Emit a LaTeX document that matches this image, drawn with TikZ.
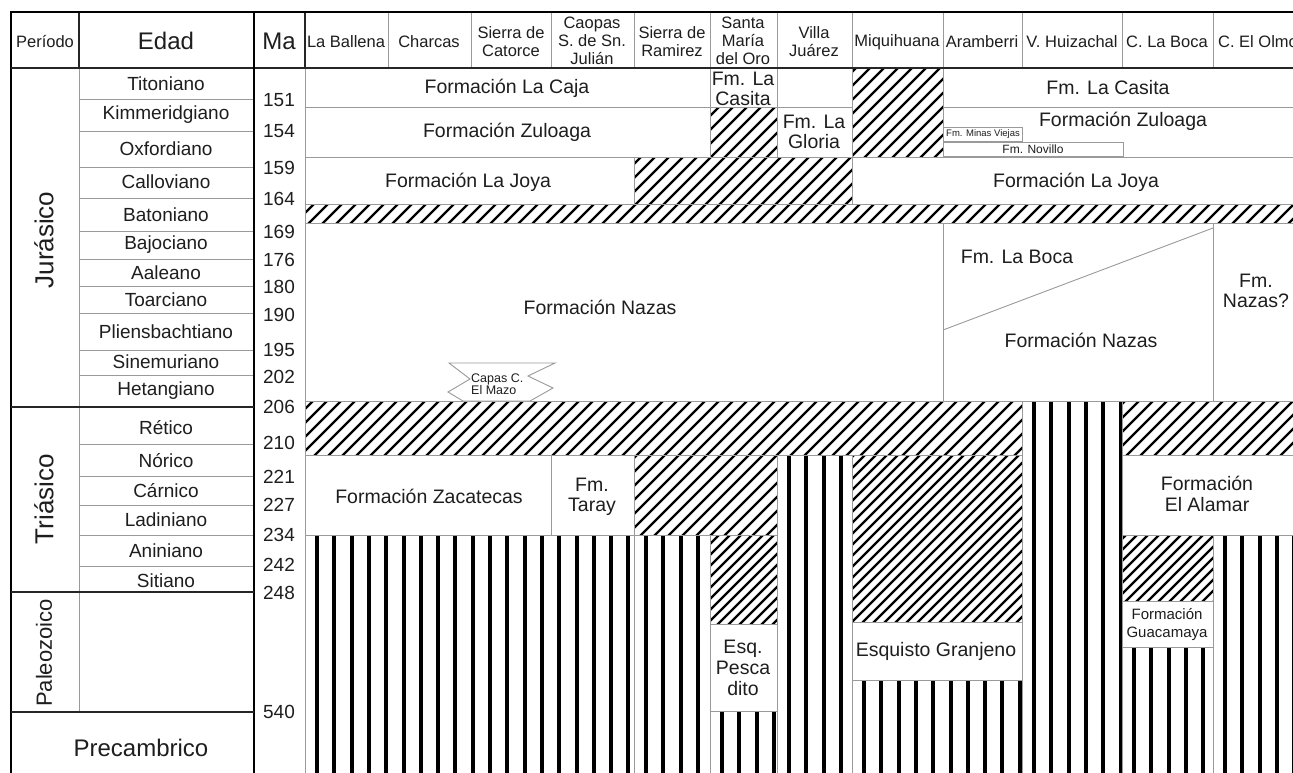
\documentclass[tikz,border=0pt]{standalone}
\usepackage{fontspec}
\setmainfont{Liberation Sans}
\usepackage{xcolor}
\usepackage{tikz}
\definecolor{strink}{HTML}{1E1E1E}
\definecolor{strgrey}{HTML}{9A9A9A}

% diagonal hatch inside a box: [spacing]{x1}{top}{x2}{bottom}
\newcommand{\hatchzone}[5][14]{%
  \begin{scope}
    \clip (#2,#3) rectangle (#4,#5);
    \pgfmathsetmacro{\hcA}{#1*floor((#2+#3)/#1)}
    \pgfmathsetmacro{\hcB}{\hcA+#1}
    \pgfmathsetmacro{\hcZ}{#4+#5+#1}
    \foreach \hc in {\hcA,\hcB,...,\hcZ}
      \draw[hatchline] (\hc-#5-3,#5+3) -- (\hc-#3+3,#3-3);
  \end{scope}
  \draw[boxline] (#2,#3) rectangle (#4,#5);}

% vertical stripes inside a box
\newcommand{\stripezone}[4]{%
  \begin{scope}
    \clip (#1,#2) rectangle (#3,#4);
    \pgfmathsetmacro{\sxA}{#1+12}
    \pgfmathsetmacro{\sxB}{#1+12+17.3}
    \foreach \sx in {\sxA,\sxB,...,#3}
      \draw[stripeline] (\sx,#2) -- (\sx,#4);
  \end{scope}
  \draw[boxline] (#1,#2) rectangle (#3,#4);}

\begin{document}
\begin{tikzpicture}[x=1pt,y=-1pt,
  boxline/.style={draw=strgrey,line width=0.9pt},
  fmbox/.style={draw=strgrey,line width=0.9pt,fill=white},
  frameline/.style={draw=black,line width=2.4pt},
  darkline/.style={draw=black!85,line width=1.6pt},
  hatchline/.style={draw=black,line width=2.3pt},
  stripeline/.style={draw=black,line width=4pt},
  hdr/.style={font=\fontsize{16.5}{18}\selectfont,align=center,inner sep=0pt,text=strink},
  bighdr/.style={font=\fontsize{24}{26}\selectfont,inner sep=0pt,text=strink},
  age/.style={font=\fontsize{19}{21}\selectfont,inner sep=0pt,text=strink},
  manum/.style={font=\fontsize{19}{21}\selectfont,inner sep=0pt,text=strink},
  period/.style={font=\fontsize{26}{28}\selectfont,rotate=90,inner sep=0pt,text=strink},
  fmtxt/.style={font=\fontsize{19.5}{20.5}\selectfont,align=center,inner sep=0pt,text=strink},
  fmsmall/.style={font=\fontsize{#1}{#1}\selectfont,align=left,inner sep=0pt,text=strink}]
\useasboundingbox (0,0) rectangle (1293,772);
\clip (0,0) rectangle (1293,772);
\fill[white] (0,0) rectangle (1293,772);

% hatched gaps
\hatchzone{852}{68}{943}{157}
\hatchzone{710}{107}{777}{157}
\hatchzone{634}{157}{852}{204}
\hatchzone{305}{204}{1300}{223}
\hatchzone{305}{401}{1022}{455}
\hatchzone{1122}{401}{1300}{455}
\hatchzone{634}{455}{777}{535}
\hatchzone[11]{852}{455}{1022}{622}
\hatchzone[11]{710}{535}{777}{624}
\hatchzone[11]{1122}{535}{1213}{601}

% basement stripes
\stripezone{305}{535}{634}{790}
\stripezone{634}{535}{710}{790}
\stripezone{710}{711}{777}{790}
\stripezone{777}{455}{852}{790}
\stripezone{852}{680}{1022}{790}
\stripezone{1022}{401}{1122}{790}
\stripezone{1122}{647}{1213}{790}
\stripezone{1213}{535}{1310}{790}

% formation boxes
\draw[fmbox] (305,68) rectangle (710,107);
\draw[fmbox] (710,68) rectangle (777,107);
\draw[fmbox] (777,68) rectangle (852,107);
\draw[fmbox] (943,68) rectangle (1300,107);
\draw[fmbox] (305,107) rectangle (710,157);
\draw[fmbox] (777,107) rectangle (852,157);
\draw[fmbox] (943,107) rectangle (1300,157);
\draw[fmbox] (943,127) rectangle (1022,141);
\draw[fmbox] (943,142) rectangle (1123,156);
\draw[fmbox] (305,157) rectangle (634,204);
\draw[fmbox] (852,157) rectangle (1300,204);
\draw[fmbox] (305,223) rectangle (943,401);
\draw[fmbox] (943,223) rectangle (1213,401);
\draw[fmbox] (1213,223) rectangle (1300,401);
\draw[boxline] (943,330) -- (1213,228);
\draw[fmbox] (305,455) rectangle (551,535);
\draw[fmbox] (551,455) rectangle (634,535);
\draw[fmbox] (1122,455) rectangle (1300,535);
\draw[fmbox] (710,624) rectangle (777,711);
\draw[fmbox] (852,622) rectangle (1022,680);
\draw[fmbox] (1122,601) rectangle (1213,647);
\draw[fmbox] (449,363) -- (555,363) -- (528,376) -- (553,388) -- (530,401)
  -- (463,401) -- (448,392) -- (470,379) -- cycle;

\node[fmtxt] (caja) at (507,88) {Formación La Caja};
\node[fmtxt] (casitasmo) at (743,89) {Fm. La\\Casita};
\node[fmtxt] (casita) at (1108,88) {Fm. La Casita};
\node[fmtxt] (zuloagaw) at (507,132) {Formación Zuloaga};
\node[fmtxt] (gloria) at (814,132) {Fm. La\\Gloria};
\node[fmtxt] (zuloagae) at (1123,121) {Formación Zuloaga};
\node[fmsmall=9.5] (minas) at (983,134.5) {Fm. Minas Viejas};
\node[fmsmall=12] (novillo) at (1033,149) {Fm. Novillo};
\node[fmtxt] (joyaw) at (468,182) {Formación La Joya};
\node[fmtxt] (joyae) at (1076,182) {Formación La Joya};
\node[fmtxt] (nazas) at (600,307) {Formación Nazas};
\node[fmsmall=12.5,anchor=west] (mazo) at (471,384) {Capas C.\\El Mazo};
\node[fmtxt] (laboca) at (1017,257) {Fm. La Boca};
\node[fmtxt] (nazase) at (1081,340) {Formación Nazas};
\node[fmtxt] (nazasq) at (1256,291) {Fm.\\Nazas?};
\node[fmtxt] (zacatecas) at (429,496) {Formación Zacatecas};
\node[fmtxt] (taray) at (592,497) {Fm.\\Taray};
\node[fmtxt] (alamar) at (1207,494) {Formación\\El Alamar};
\node[fmtxt,font=\fontsize{19.5}{21}\selectfont] (pescadito) at (743,668) {Esq.\\Pesca\\dito};
\node[fmtxt] (granjeno) at (936,651) {Esquisto Granjeno};
\node[fmsmall=15,align=center,font=\fontsize{15}{18}\selectfont] (guacamaya) at (1167,625) {Formación\\Guacamaya};

% time scale: ages
\foreach \ry in {99,131,167,198,231,259,286,313,350,375,444,476,505,535,566}
  \draw[boxline] (79,\ry) -- (254,\ry);
\foreach \an/\ay [count=\i] in {Titoniano/84,Kimmeridgiano/115,Oxfordiano/149,
    Calloviano/182,Batoniano/215,Bajociano/245,Aaleano/273,Toarciano/300,
    Pliensbachtiano/332,Sinemuriano/362,Hetangiano/391,Rético/428,Nórico/461,
    Cárnico/491,Ladiniano/520,Aniniano/551,Sitiano/581}
  \node[age] (age\i) at (166,\ay) {\an};
\foreach \mv/\my in {151/100,154/131,159/168,164/199,169/232,176/260,180/287,
    190/315,195/350,202/377,206/407,210/443,221/477,227/505,234/535,242/565,
    248/593,540/712}
  \node[manum] (ma\mv) at (279,\my) {\mv};

\draw[boxline] (79,68) -- (79,712);
\node[period] (jur) at (44,240) {Jurásico};
\node[period] (tri) at (44,499) {Triásico};
\node[period,font=\fontsize{22}{24}\selectfont] (pal) at (44,653) {Paleozoico};
\node[bighdr] (pre) at (141,748) {Precambrico};

% header
\foreach \cx in {388,471,551,634,710,777,852,943,1022,1122,1213}
  \draw[boxline] (\cx,12) -- (\cx,68);
\draw[darkline] (79,12) -- (79,68);
\draw[darkline] (305,12) -- (305,68);
\node[hdr] (hper) at (45,42) {Período};
\node[bighdr] (hedad) at (166,41) {Edad};
\node[bighdr] (hma) at (279,41) {Ma};
\node[hdr] (h1) at (346,42) {La Ballena};
\node[hdr] (h2) at (429,42) {Charcas};
\node[hdr] (h3) at (511,42) {Sierra de\\Catorce};
\node[hdr] (h4) at (592,41) {Caopas\\S. de Sn.\\Julián};
\node[hdr] (h5) at (672,42) {Sierra de\\Ramirez};
\node[hdr] (h6) at (743,41) {Santa\\María\\del Oro};
\node[hdr] (h7) at (814,42) {Villa\\Juárez};
\node[hdr] (h8) at (897,42) {Miquihuana};
\node[hdr] (h9) at (982,42) {Aramberri};
\node[hdr] (h10) at (1072,42) {V. Huizachal};
\node[hdr] (h11) at (1167,42) {C. La Boca};
\node[hdr] (h12) at (1258,42) {C. El Olmo};

% frame and period limits
\draw[frameline] (11,790) -- (11,12) -- (1300,12);
\draw[darkline] (11,68) -- (1300,68);
\draw[frameline] (254,12) -- (254,790);
\draw[darkline] (11,407) -- (254,407);
\draw[darkline] (11,592) -- (254,592);
\draw[darkline] (11,712) -- (254,712);
\end{tikzpicture}
\end{document}
